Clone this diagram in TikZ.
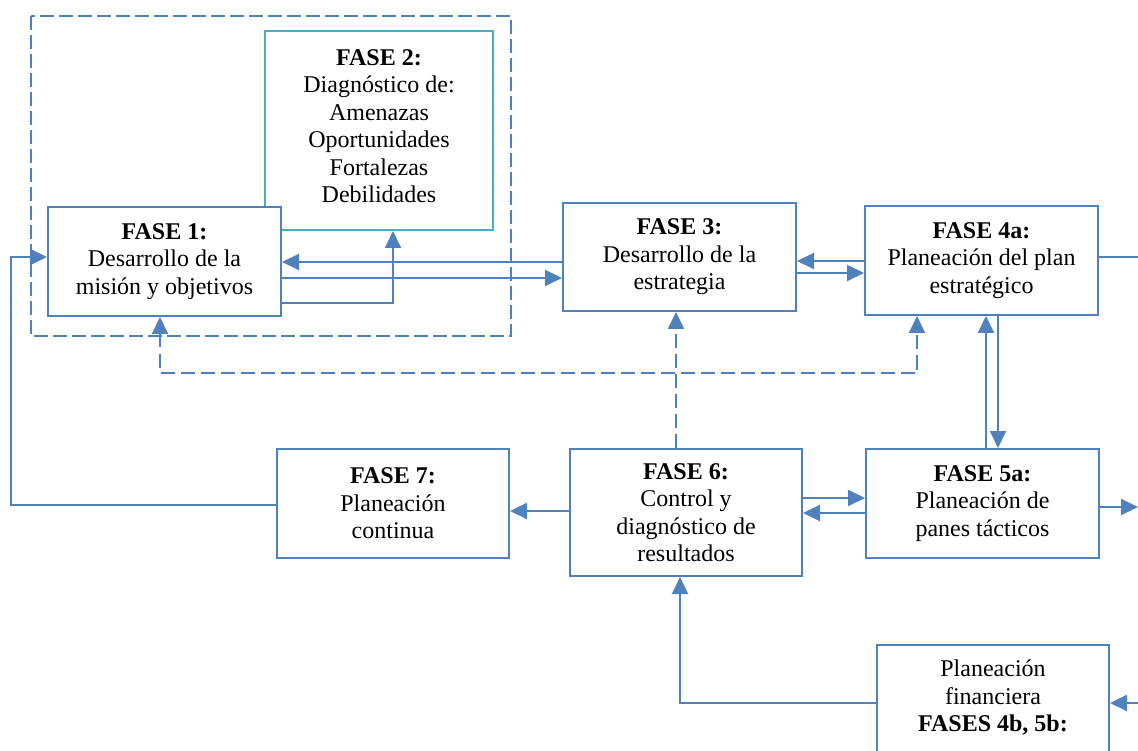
\documentclass[tikz,border=0pt]{standalone}
\usepackage{fontspec}
\setmainfont{Liberation Serif}
\usetikzlibrary{arrows.meta}
\definecolor{bl}{RGB}{79,129,189}
\definecolor{cy}{RGB}{75,172,198}
\begin{document}
\begin{tikzpicture}[x=1pt,y=-1pt,
  box/.style={draw=bl, line width=2pt, fill=white, align=center, inner sep=0pt,
    font=\fontsize{24}{27.5}\selectfont, text=black},
  txt/.style={align=center, inner sep=0pt, font=\fontsize{24}{27.5}\selectfont, text=black},
  tip/.style={-{Triangle[length=17pt,width=16pt]}},
  arr/.style={draw=bl, line width=2pt, tip},
  dasharr/.style={draw=bl, line width=2pt, dash pattern=on 14pt off 6pt},
]
\clip (0,0) rectangle (1138,751);
\fill[white] (0,0) rectangle (1138,751);

% dashed group frame
\draw[bl, line width=2pt, dash pattern=on 14pt off 5pt] (31,16) rectangle (511,336);

% boxes
\node[box, draw=cy, minimum width=228pt, minimum height=199pt] (f2) at (379,130.5) {};
\node[txt] (f2t) at (379,126)
  {\textbf{FASE 2:}\\Diagnóstico de:\\Amenazas\\Oportunidades\\Fortalezas\\Debilidades};
\node[box, minimum width=233pt, minimum height=109pt] (f1) at (164.5,261.5)
  {\textbf{FASE 1:}\\Desarrollo de la\\misión y objetivos};
\node[box, minimum width=233pt, minimum height=108pt] (f3) at (679.5,257)
  {\textbf{FASE 3:}\\Desarrollo de la\\estrategia};
\node[box, minimum width=233pt, minimum height=109pt] (f4a) at (981.5,260.5)
  {\textbf{FASE 4a:}\\Planeación del plan\\estratégico};
\node[box, minimum width=232pt, minimum height=109pt] (f7) at (393,503.5)
  {\textbf{FASE 7:}\\Planeación\\continua};
\node[box, minimum width=232pt, minimum height=127pt] (f6) at (686,512.5)
  {\textbf{FASE 6:}\\Control y\\diagnóstico de\\resultados};
\node[box, minimum width=233pt, minimum height=109pt] (f5a) at (982.5,503.5)
  {\textbf{FASE 5a:}\\Planeación de\\panes tácticos};
\node[box, minimum width=232pt, minimum height=130pt] (fin) at (993,710) {};
\node[txt] (fint) at (993,698) {Planeación\\financiera\\\textbf{FASES 4b, 5b:}};

% free ends at the picture edge
\coordinate (e1) at (1138,257);
\coordinate (e2) at (1138,507);
\coordinate (e3) at (1138,703);

% connectors
\draw[arr] (f3.west |- 0,262) -- (f1.east |- 0,262);
\draw[arr] (f1.east |- 0,278) -- (f3.west |- 0,278);
\draw[arr] (f1.east |- 0,303) -| ([xshift=14pt]f2.south);
\draw[arr] (f4a.west |- 0,261) -- (f3.east |- 0,261);
\draw[arr] (f3.east |- 0,273) -- (f4a.west |- 0,273);
\draw[bl, line width=2pt] (f4a.east |- e1) -- (e1);
\draw[arr] (f5a.north -| 986,0) -- (f4a.south -| 986,0);
\draw[arr] (f4a.south -| 998,0) -- (f5a.north -| 998,0);
\draw[dasharr, tip] (f6.north -| 676,0) -- (f3.south -| 676,0);
\coordinate (d1) at (160,373);
\coordinate (d2) at (917,373);
\draw[dasharr, {Triangle[length=17pt,width=16pt]}-{Triangle[length=17pt,width=16pt]}]
  (f1.south -| d1) -- (d1) -- (d2) -- (f4a.south -| d2);
\draw[arr] (f6.west |- 0,511) -- (f7.east |- 0,511);
\draw[arr] (f7.west |- 0,505) -| (11,257) -- (f1.west |- 0,257);
\draw[arr] (f6.east |- 0,498) -- (f5a.west |- 0,498);
\draw[arr] (f5a.west |- 0,513) -- (f6.east |- 0,513);
\draw[arr] (f5a.east |- e2) -- (e2);
\draw[arr] (fin.west |- 0,703) -| (f6.south -| 680,0);
\draw[arr] (e3) -- (fin.east |- e3);
\end{tikzpicture}
\end{document}
